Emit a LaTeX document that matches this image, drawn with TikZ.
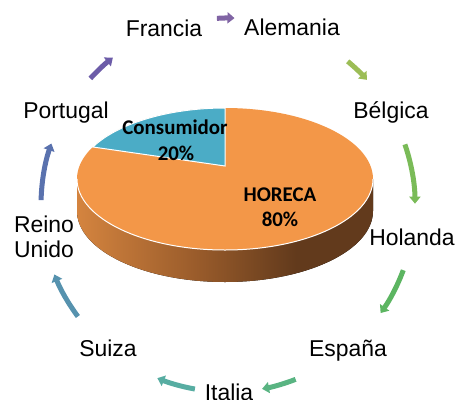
\documentclass[tikz,border=0pt]{standalone}
\usepackage{fontspec}
\setmainfont{Liberation Sans}
\newfontfamily\calib{Carlito}
\usetikzlibrary{arrows.meta}
\definecolor{pieorange}{HTML}{F39748}
\definecolor{pieblue}{HTML}{4BACC6}
\definecolor{sideA}{HTML}{D4843F}
\definecolor{sideB}{HTML}{9A5C2B}
\definecolor{sideC}{HTML}{623A1C}
\definecolor{c1}{HTML}{6C5CA8}
\definecolor{c2}{HTML}{8064A4}
\definecolor{c3}{HTML}{9CBD56}
\definecolor{c4}{HTML}{7ABB58}
\definecolor{c5}{HTML}{5CB561}
\definecolor{c6}{HTML}{59B482}
\definecolor{c7}{HTML}{57ADA2}
\definecolor{c8}{HTML}{5692AE}
\definecolor{c9}{HTML}{5A72AE}
\pgfdeclarehorizontalshading{pieside}{100bp}{color(0bp)=(sideA); color(25bp)=(sideA); color(45bp)=(sideB); color(62bp)=(sideC); color(75bp)=(sideC); color(100bp)=(sideC)}
\begin{document}
\begin{tikzpicture}[x=1bp,y=1bp,
  lbl/.style={font=\fontsize{23}{25}\selectfont, anchor=base, inner sep=0pt, align=center},
  pct/.style={font=\calib\bfseries\fontsize{21}{23}\selectfont, anchor=base, inner sep=0pt},
  cyc/.style={line width=5bp, -{Triangle[width=11bp,length=7bp]}}]
\useasboundingbox (0,0) rectangle (458,399);
% pie chart
\coordinate (E) at (225,220);
\coordinate (P) at (225,233);
\fill[shading=pieside] (77,220) -- (77,188) arc[start angle=180,end angle=360,x radius=148,y radius=71] -- (373,220) arc[start angle=0,end angle=-180,x radius=148,y radius=71] -- cycle;
\fill[pieorange] (E) ellipse[x radius=148,y radius=71];
\draw[white,line width=1bp] (77,220) arc[start angle=180,end angle=360,x radius=148,y radius=71];
\filldraw[fill=pieblue,draw=white,line width=1bp] (P) -- (225,291) arc[start angle=90,end angle=153.2,x radius=148,y radius=71] -- cycle;
\node[pct] (cons) at (175,265) {Consumidor};
\node[pct] (c20) at (176,239) {20\%};
\node[pct] (hor) at (280,198) {HORECA};
\node[pct] (h80) at (280,173) {80\%};
% labels
\node[lbl] (fra) at (164,363) {Francia};
\node[lbl] (ale) at (292,364) {Alemania};
\node[lbl] (bel) at (391,281) {Bélgica};
\node[lbl] (hol) at (412,154) {Holanda};
\node[lbl] (esp) at (348,43) {España};
\node[lbl] (ita) at (229,-1) {Italia};
\node[lbl] (sui) at (108,43) {Suiza};
\node[lbl] (reu) at (44,142) {Reino\\Unido};
\node[lbl] (por) at (66,281) {Portugal};
% cycle arrows
\coordinate (O) at (228,194);
\coordinate (s1) at ([shift={(137.4:187)}]O);
\coordinate (s2) at ([shift={(93.4:187)}]O);
\coordinate (s3) at ([shift={(50.2:187)}]O);
\coordinate (s4) at ([shift={(18.9:187)}]O);
\coordinate (s5) at ([shift={(-20.4:187)}]O);
\coordinate (s6) at ([shift={(-68.8:187)}]O);
\coordinate (s7) at ([shift={(-100.2:187)}]O);
\coordinate (s8) at ([shift={(-143.4:187)}]O);
\coordinate (s9) at ([shift={(178.5:187)}]O);
\draw[cyc,c1] (s1) arc[start angle=137.4,end angle=128.0,radius=187];
\draw[cyc,c2] (s2) arc[start angle=93.4,end angle=88.0,radius=187];
\draw[cyc,c3] (s3) arc[start angle=50.2,end angle=42.0,radius=187];
\draw[cyc,c4] (s4) arc[start angle=18.9,end angle=0.4,radius=187];
\draw[cyc,c5] (s5) arc[start angle=-20.4,end angle=-35.3,radius=187];
\draw[cyc,c6] (s6) arc[start angle=-68.8,end angle=-79.5,radius=187];
\draw[cyc,c7] (s7) arc[start angle=-100.2,end angle=-112.2,radius=187];
\draw[cyc,c8] (s8) arc[start angle=-143.4,end angle=-158.2,radius=187];
\draw[cyc,c9] (s9) arc[start angle=178.5,end angle=160.8,radius=187];
\end{tikzpicture}
\end{document}
